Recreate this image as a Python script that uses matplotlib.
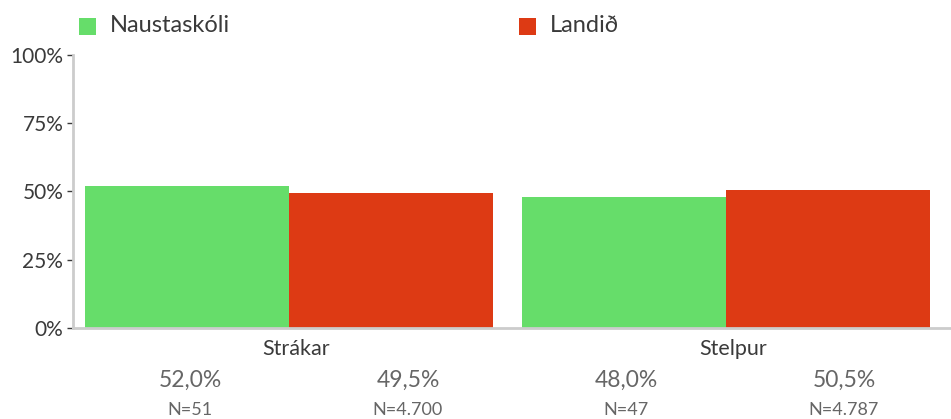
import matplotlib
matplotlib.use('Agg')
import matplotlib.pyplot as plt
import matplotlib.transforms as mtransforms
from matplotlib.patches import Rectangle

########## data ##########
categories = ['Strákar', 'Stelpur']
series_names = ['Naustaskóli', 'Landið']
naust_values = [0.520, 0.480]
landid_values = [0.495, 0.505]
naust_labels = ['52,0%', '48,0%']
landid_labels = ['49,5%', '50,5%']
naust_n = ['N=51', 'N=47']
landid_n = ['N=4.700', 'N=4.787']
yticks = [0, 0.25, 0.5, 0.75, 1.0]
ytick_labels = ['0%', '25%', '50%', '75%', '100%']

########## style ##########
green = '#66DD6A'
red = '#DD3A14'
text_dark = '#3a3a3a'
text_gray = '#666666'
plt.rcParams['font.family'] = ['Lato', 'DejaVu Sans']

fig = plt.figure(figsize=(9.51, 4.19), dpi=100)
ax = fig.add_axes([73 / 951, 91.3 / 419, 1 - 73 / 951, 272.7 / 419])

width = 0.467
x = list(range(len(categories)))
ax.bar([i - width / 2 for i in x], naust_values, width=width, color=green, linewidth=0)
ax.bar([i + width / 2 for i in x], landid_values, width=width, color=red, linewidth=0)

ax.set_xlim(-0.494, 1.515)
ax.set_ylim(0, 1.0)
ax.set_yticks(yticks)
ax.set_yticklabels(ytick_labels, fontsize=15, color=text_dark)
ax.tick_params(axis='y', length=4, width=1, color=text_dark, pad=3)
ax.set_xticks(x)
ax.set_xticklabels(categories, fontsize=15.5, color=text_dark)
ax.tick_params(axis='x', length=0, pad=8)
# category labels sit a little right of the group centre in the original
shift = mtransforms.ScaledTranslation(7 / 100, 0, fig.dpi_scale_trans)
for lbl in ax.get_xticklabels():
    lbl.set_transform(lbl.get_transform() + shift)

for s in ['top', 'right']:
    ax.spines[s].set_visible(False)
for s in ['left', 'bottom']:
    ax.spines[s].set_color('#cccccc')
    ax.spines[s].set_linewidth(2)

# value labels in equal columns below the plot
cols = len(categories) * 2
col_w = (953 - 81) / cols
vals = [naust_labels[0], landid_labels[0], naust_labels[1], landid_labels[1]]
ns = [naust_n[0], landid_n[0], naust_n[1], landid_n[1]]
for k in range(cols):
    cx = (81 + col_w * (k + 0.5)) / 951
    fig.text(cx, 1 - 380 / 419, vals[k], ha='center', va='center', fontsize=16.5, color=text_gray)
    fig.text(cx, 1 - 410 / 419, ns[k], ha='center', va='center', fontsize=13, color=text_gray)

# legend
legend_x = [79, 519]
for name, col, lx in zip(series_names, [green, red], legend_x):
    fig.add_artist(Rectangle((lx / 951, 1 - 35 / 419), 17 / 951, 17 / 419,
                             transform=fig.transFigure, color=col, linewidth=0))
    fig.text((lx + 31) / 951, 1 - 26 / 419, name, ha='left', va='center', fontsize=17, color=text_dark)

plt.savefig('out.png', dpi=100)
